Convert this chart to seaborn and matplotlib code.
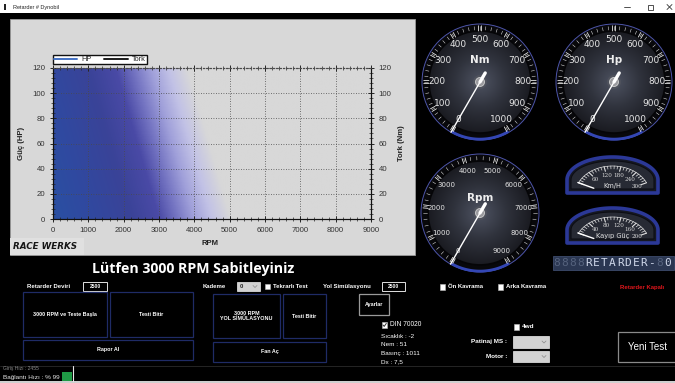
import numpy as np
import matplotlib
matplotlib.use("Agg")
import matplotlib.pyplot as plt
import seaborn as sns
from matplotlib.patches import Rectangle, Circle, Polygon
from matplotlib.lines import Line2D
from matplotlib.ticker import MultipleLocator
from matplotlib.colors import LinearSegmentedColormap

# ---- chart data: the run has not started yet, so both curves are empty ----
rpm = []
hp = []
tork = []
series = ["HP", "Tork"]
series_colors = ["#4472c4", "#1c1c1c"]
rpm_ticks = [0, 1000, 2000, 3000, 4000, 5000, 6000, 7000, 8000, 9000]
hp_ticks = [0, 20, 40, 60, 80, 100, 120]
tork_ticks = [0, 20, 40, 60, 80, 100, 120]

# ---- gauges ----
nm_dial = [0, 100, 200, 300, 400, 500, 600, 700, 800, 900, 1000]
hp_dial = [0, 100, 200, 300, 400, 500, 600, 700, 800, 900, 1000]
rpm_dial = [0, 1000, 2000, 3000, 4000, 5000, 6000, 7000, 8000, 9000]
kmh_dial = [0, 60, 120, 180, 240, 300]
loss_dial = [0, 40, 80, 120, 160, 200]
nm_value = 0
hp_value = 0
rpm_value = 0
kmh_value = 0
loss_value = 0

# ---- panel values ----
retarder_rpm = "2500"
road_sim_rpm = "2500"
gear = "0"
weather = ["Sıcaklık : -2", "Nem : 51", "Basınç : 1011", "Dx : 7,5"]
link_speed = "Bağlantı Hızı : % 99"
lcd_text = "8888RETARDER-80"
lcd_dim = [0, 1, 2, 3, 13]

sns.set_theme(style="ticks")
plt.rcParams['font.family'] = ['Liberation Sans', 'DejaVu Sans']

W, H = 675, 383
PANEL = "#d8d8d8"
fig = plt.figure(figsize=(W / 100, H / 100), dpi=100, facecolor="black")

# full-window layer in pixel coordinates for the surrounding form
ui = fig.add_axes([0, 0, 1, 1], zorder=0)
ui.axis("off")


def fx(x):
    return x / W


def fy(y):
    return 1 - y / H


# window title bar
ui.add_patch(Rectangle((0, 0), W, 13, fc="white", ec="none"))
ui.add_patch(Rectangle((4, 4), 2, 6, fc="#222", ec="none"))
ui.text(13, 7, "Retarder # Dynobil", fontsize=4, color="#222", va="center")
ui.plot([624, 630], [7, 7], color="#333", lw=0.6)
ui.add_patch(Rectangle((648, 4.5), 5, 5, fc="none", ec="#333", lw=0.6))
ui.plot([667, 672], [4.5, 9.5], color="#333", lw=0.6)
ui.plot([667, 672], [9.5, 4.5], color="#333", lw=0.6)

# chart panel
ui.add_patch(Rectangle((10, 19), 405, 236, fc=PANEL, ec="#9a9a9a", lw=0.6))
ui.add_patch(Rectangle((10, 238), 74, 17, fc="#e0e0e0", ec="none"))
ui.text(13, 246.5, "RACE WERKS", fontsize=6.3, fontweight="bold", style="italic",
        family="DejaVu Sans", color="#161616", va="center")

# ---- the dyno chart ----
ax = fig.add_axes([fx(53), fy(219), fx(371) - fx(53), fy(68) - fy(219)], zorder=2)
ax.set_facecolor(PANEL)
U_MAX = 10300
grad = LinearSegmentedColormap.from_list("dyno", [
    (0.0, "#2a50a2"), (1000 / U_MAX, "#3049a0"), (2200 / U_MAX, "#3a4398"),
    (3000 / U_MAX, "#4a4aa6"), (3500 / U_MAX, "#7474c2"), (4000 / U_MAX, "#a0a0da"),
    (4500 / U_MAX, "#c2c2e6"), (5050 / U_MAX, PANEL), (1.0, PANEL)])
gx, gy = np.meshgrid(np.linspace(0, 9000, 450), np.linspace(0, 120, 160))
ax.imshow(gx + gy * 1230 / 120, origin="lower", extent=[0, 9000, 0, 120], aspect="auto",
          cmap=grad, vmin=0, vmax=U_MAX, interpolation="bilinear", zorder=0)

if len(rpm):
    sns.lineplot(x=rpm, y=hp, ax=ax, color=series_colors[0], lw=1.5)
axr = ax.twinx()
if len(rpm):
    sns.lineplot(x=rpm, y=tork, ax=axr, color=series_colors[1], lw=1.5)

ax.set_xlim(0, 9000)
ax.set_ylim(0, 120)
axr.set_ylim(0, 120)
ax.set_xticks(rpm_ticks)
ax.set_yticks(hp_ticks)
axr.set_yticks(tork_ticks)
ax.xaxis.set_minor_locator(MultipleLocator(200))
ax.yaxis.set_minor_locator(MultipleLocator(4))
axr.yaxis.set_minor_locator(MultipleLocator(4))
ax.grid(True, which="major", color="#4a4a4a", linestyle=(0, (1, 2)), lw=0.6)
for a in (ax, axr):
    a.tick_params(which="major", direction="inout", length=5, width=0.7,
                  labelsize=5.6, labelcolor="#333", pad=3)
    a.tick_params(which="minor", direction="inout", length=2.5, width=0.5)
    for s in a.spines.values():
        s.set_color("#111")
        s.set_linewidth(0.8)
    a.spines["top"].set_linestyle((0, (1, 2)))
    a.spines["top"].set_color("#4a4a4a")
ax.tick_params(which="both", top=True)

ax.set_xlabel("RPM", fontsize=5.6, fontweight="bold", color="#222")
ax.xaxis.set_label_coords(0.494, -0.16)
ax.xaxis.label.set_va("center")
ax.set_ylabel("Güç (HP)", fontsize=5.6, fontweight="bold", color="#222")
ax.yaxis.set_label_coords(-0.098, 0.5)
ax.yaxis.label.set_va("center")
axr.set_ylabel("Tork (Nm)", fontsize=5.6, fontweight="bold", color="#222")
axr.yaxis.set_label_coords(1.097, 0.5)
axr.yaxis.label.set_va("center")

handles = [Line2D([], [], color=c, lw=1.4) for c in series_colors]
fig.legend(handles, series, loc="lower left", bbox_to_anchor=(fx(53), fy(64)), ncol=2,
           fontsize=5.3, frameon=True, fancybox=False, edgecolor="#111", facecolor="white",
           framealpha=1, borderpad=0.12, handlelength=3.2, handletextpad=0.6,
           columnspacing=1.6, borderaxespad=0, labelspacing=0)

# ---- round gauges ----
face_cmap = LinearSegmentedColormap.from_list("face", ["#4e5362", "#30333d", "#1a1b21"])


def line_at(cx, cy, a, r0, r1, **kw):
    t = np.radians(a)
    ui.plot([cx + r0 * np.cos(t), cx + r1 * np.cos(t)],
            [cy - r0 * np.sin(t), cy - r1 * np.sin(t)], **kw)


def round_gauge(cx, cy, r, dial, value, unit, fs, unit_dy):
    vmax = dial[-1]

    def ang(v):
        return 240 - 300 * v / vmax

    ui.add_patch(Circle((cx, cy), r, fc="#08080b", ec="#4d55aa", lw=0.7, zorder=3))
    fr = 0.88 * r
    rim = Circle((cx, cy), fr, fc="none", ec="#050507", lw=1.2, zorder=4)
    ui.add_patch(rim)
    g = np.linspace(-1, 1, 120)
    gx_, gy_ = np.meshgrid(g, g)
    im = ui.imshow(np.hypot(gx_, gy_), cmap=face_cmap, vmin=0, vmax=1,
                   extent=[cx - fr, cx + fr, cy + fr, cy - fr], aspect="auto",
                   interpolation="bilinear", zorder=3.5)
    im.set_clip_path(rim)
    t = np.radians(np.linspace(-60, -120, 40))
    ui.plot(cx + r * 0.985 * np.cos(t), cy - r * 0.985 * np.sin(t), color="#3346b4",
            lw=2, solid_capstyle="butt", zorder=5)
    step = (dial[1] - dial[0]) / 5
    for v in np.arange(0, vmax + step / 2, step):
        line_at(cx, cy, ang(v), 0.9 * r, 0.96 * r, color="#d8d8d8", lw=0.4, zorder=5)
    for v in dial:
        for d in (-1.6, 1.6):
            line_at(cx, cy, ang(v) + d * 57.3 / r, 0.88 * r, 0.97 * r, color="#e8e8e8",
                    lw=0.6, zorder=5)
        t = np.radians(ang(v))
        ui.text(cx + 0.74 * r * np.cos(t), cy - 0.74 * r * np.sin(t), str(v), fontsize=fs,
                color="#e6e6e6", family="DejaVu Sans", ha="center", va="center", zorder=6)
    ui.text(cx, cy - unit_dy, unit, fontsize=7.5, fontweight="bold", color="#eeeeee",
            family="DejaVu Sans", ha="center", va="center", zorder=6)
    ui.add_patch(Circle((cx, cy), 7, fc="#55575f", ec="none", alpha=0.6, zorder=6))
    ui.add_patch(Circle((cx, cy), 4.5, fc="#9a9a9e", ec="#d0d0d0", lw=0.6, zorder=6))
    line_at(cx, cy, ang(value), 0, r, color="white", lw=1.0, zorder=7,
            solid_capstyle="round")
    line_at(cx, cy, ang(value) + 180, 0, 0.18 * r, color="white", lw=2.4, zorder=7,
            solid_capstyle="round")


round_gauge(480, 82, 58, nm_dial, nm_value, "Nm", 6.5, 22)
round_gauge(614, 82, 58, hp_dial, hp_value, "Hp", 6.5, 22)
round_gauge(480, 213, 59, rpm_dial, rpm_value, "Rpm", 5, 15)


# ---- small arched gauges ----
def arch_gauge(x0, x1, ytop, ybot, dial, value, unit):
    vmax = dial[-1]
    xc = (x0 + x1) / 2

    def shape(inset):
        ysh = ybot - 13
        t = np.linspace(np.pi, 0, 60)
        pts = [(x0 + inset, ybot - inset)]
        pts += list(zip(xc + ((x1 - x0) / 2 - inset) * np.cos(t),
                        ysh - (ysh - ytop - inset) * np.sin(t)))
        pts += [(x1 - inset, ybot - inset)]
        return pts

    ui.add_patch(Polygon(shape(0), closed=True, fc="#161822", ec="#2b3897", lw=2.6,
                         joinstyle="round", zorder=3))
    ui.add_patch(Polygon(shape(4), closed=True, fc="#272a34", ec="#0d0e14", lw=0.8,
                         zorder=3.5))
    cy = ybot + 2
    rx = (x1 - x0) / 2 - 8
    ry = cy - ytop - 9

    def ang(v):
        return 155 - 130 * v / vmax

    t = np.radians(np.linspace(155, 25, 50))
    ui.plot(xc + rx * np.cos(t), cy - ry * np.sin(t), color="#dcdcdc", lw=0.5, zorder=5)
    step = (dial[1] - dial[0]) / 5
    for v in np.arange(0, vmax + step / 2, step):
        major = abs(v / (dial[1] - dial[0]) - round(v / (dial[1] - dial[0]))) < 1e-6
        k = 0.84 if major else 0.9
        tt = np.radians(ang(v))
        ui.plot([xc + rx * np.cos(tt), xc + rx * k * np.cos(tt)],
                [cy - ry * np.sin(tt), cy - ry * k * np.sin(tt)],
                color="#e0e0e0", lw=0.5 if not major else 0.8, zorder=5)
    for v in dial[1:]:
        tt = np.radians(ang(v))
        ui.text(xc + (rx - 10) * np.cos(tt), cy - (ry - 8.5) * np.sin(tt), str(v),
                fontsize=4.1, family="DejaVu Serif", color="#d8d8d8",
                ha="center", va="center", zorder=6)
    ui.text(xc, ybot - 7, unit, fontsize=4.8, color="#e0e0e0", family="DejaVu Sans",
            ha="center", va="center", zorder=6)
    tt = np.radians(ang(value))
    ui.plot([xc + rx * 0.55 * np.cos(tt), xc + rx * 1.02 * np.cos(tt)],
            [cy - ry * 0.55 * np.sin(tt), cy - ry * 1.02 * np.sin(tt)],
            color="white", lw=1.0, zorder=6)


arch_gauge(567, 658, 157, 193, kmh_dial, kmh_value, "Km/H")
arch_gauge(567, 658, 208, 243, loss_dial, loss_value, "Kayıp Güç")

# LCD status display
ui.add_patch(Rectangle((553, 256), 121, 14, fc="#2b3752", ec="#3d4b6c", lw=0.6))
for i, ch in enumerate(lcd_text):
    ui.text(557 + i * 7.9, 263.5, ch, fontsize=8, family="DejaVu Sans Mono",
            color="#56637e" if i in lcd_dim else "#cfd7ea", ha="center", va="center")

# ---- control area ----
ui.text(193, 269, "Lütfen 3000 RPM Sabitleyiniz", fontsize=10.2, fontweight="bold",
        family="Open Sans", color="white", ha="center", va="center")


def button(x0, y0, x1, y1, label, edge="#1f2b66", fs=3.9, bold=True):
    ui.add_patch(Rectangle((x0, y0), x1 - x0, y1 - y0, fc="black", ec=edge, lw=0.9))
    ui.text((x0 + x1) / 2, (y0 + y1) / 2, label, fontsize=fs, color="white",
            fontweight="bold" if bold else "normal", ha="center", va="center",
            linespacing=1.1)


def value_box(x0, y0, x1, y1, label):
    ui.add_patch(Rectangle((x0, y0), x1 - x0, y1 - y0, fc="black", ec="#e0e0e0", lw=0.7))
    ui.text((x0 + x1) / 2, (y0 + y1) / 2, label, fontsize=3.6, color="white",
            fontweight="bold", ha="center", va="center")


def checkbox(x, y, label, checked=False, fs=4.3, bold=True):
    ui.add_patch(Rectangle((x, y - 2.6), 5.2, 5.2, fc="white", ec="#bbbbbb", lw=0.4))
    if checked:
        ui.plot([x + 1, x + 2.2, x + 4.3], [y, y + 1.4, y - 1.6], color="#333", lw=0.7)
    ui.text(x + 8, y, label, fontsize=fs, color="white",
            fontweight="bold" if bold else "normal", va="center")


def combo(x0, y0, x1, y1, label=""):
    ui.add_patch(Rectangle((x0, y0), x1 - x0, y1 - y0, fc="#d2d2d2", ec="#eeeeee", lw=0.5))
    if label:
        ui.text(x0 + 3, (y0 + y1) / 2, label, fontsize=4.2, fontweight="bold",
                color="#222", va="center")
    ym = (y0 + y1) / 2
    ui.plot([x1 - 7, x1 - 5, x1 - 3], [ym - 1, ym + 1, ym - 1], color="#888", lw=0.5)


ui.text(27, 287, "Retarder Deviri", fontsize=4.3, color="white",
        fontweight="bold", va="center")
value_box(83, 282, 107, 291, retarder_rpm)
button(23, 292, 107, 337, "3000 RPM ve Teste Başla")
button(110, 292, 193, 337, "Testi Bitir")
button(23, 340, 193, 360, "Rapor Al")

ui.text(203, 286.5, "Kademe", fontsize=4.3, color="white", fontweight="bold", va="center")
combo(237, 282, 260, 291, gear)
checkbox(265, 286.5, "Tekrarlı Test")
ui.text(323, 286.5, "Yol Simülasyonu", fontsize=4.3, color="white", fontweight="bold",
        va="center")
value_box(382, 282, 405, 291, road_sim_rpm)
button(213, 294, 280, 338, "3000 RPM\nYOL SİMÜLASYONU")
button(283, 294, 326, 338, "Testi Bitir")
button(213, 342, 326, 362, "Fan Aç")
button(359, 294, 389, 315, "Ayarlar", edge="#9a9a9a")

checkbox(382, 325, "DIN 70020", checked=True, fs=4.8, bold=False)
for i, line in enumerate(weather):
    ui.text(381, 336 + i * 8.5, line, fontsize=4.6, color="white", va="center")

checkbox(440, 287, "Ön Kavrama")
checkbox(498, 287, "Arka Kavrama")
ui.text(620, 287, "Retarder Kapalı", fontsize=4.3, color="#e0161b", fontweight="bold",
        va="center")
checkbox(514, 327, "4wd", fs=4.6)
ui.text(507, 342, "Patinaj MS :", fontsize=4.6, color="white", fontweight="bold",
        ha="right", va="center")
combo(513, 336, 549, 348)
ui.text(507, 357, "Motor :", fontsize=4.6, color="white", fontweight="bold",
        ha="right", va="center")
combo(513, 351, 549, 362)
button(618, 332, 677, 362, "Yeni Test", edge="#8a8a8a", fs=7, bold=False)

# status strip
ui.plot([0, W], [366, 366], color="#2a2a2a", lw=0.6)
ui.text(3, 368.5, "Giriş Hızı : 2455", fontsize=3.6, color="#8a8a8a", va="center")
ui.text(3, 377, link_speed, fontsize=4.6, color="#e8e8e8", va="center")
ui.add_patch(Rectangle((62, 372), 10, 9, fc="#1f9a45", ec="none"))
ui.plot([73, 73], [366, 381], color="#e8e8e8", lw=0.8)
ui.add_patch(Rectangle((0, 380.5), W, 3, fc="#cfcfcf", ec="none"))

ui.set_xlim(0, W)
ui.set_ylim(H, 0)
fig.savefig("out.png", dpi=100, facecolor="black")
